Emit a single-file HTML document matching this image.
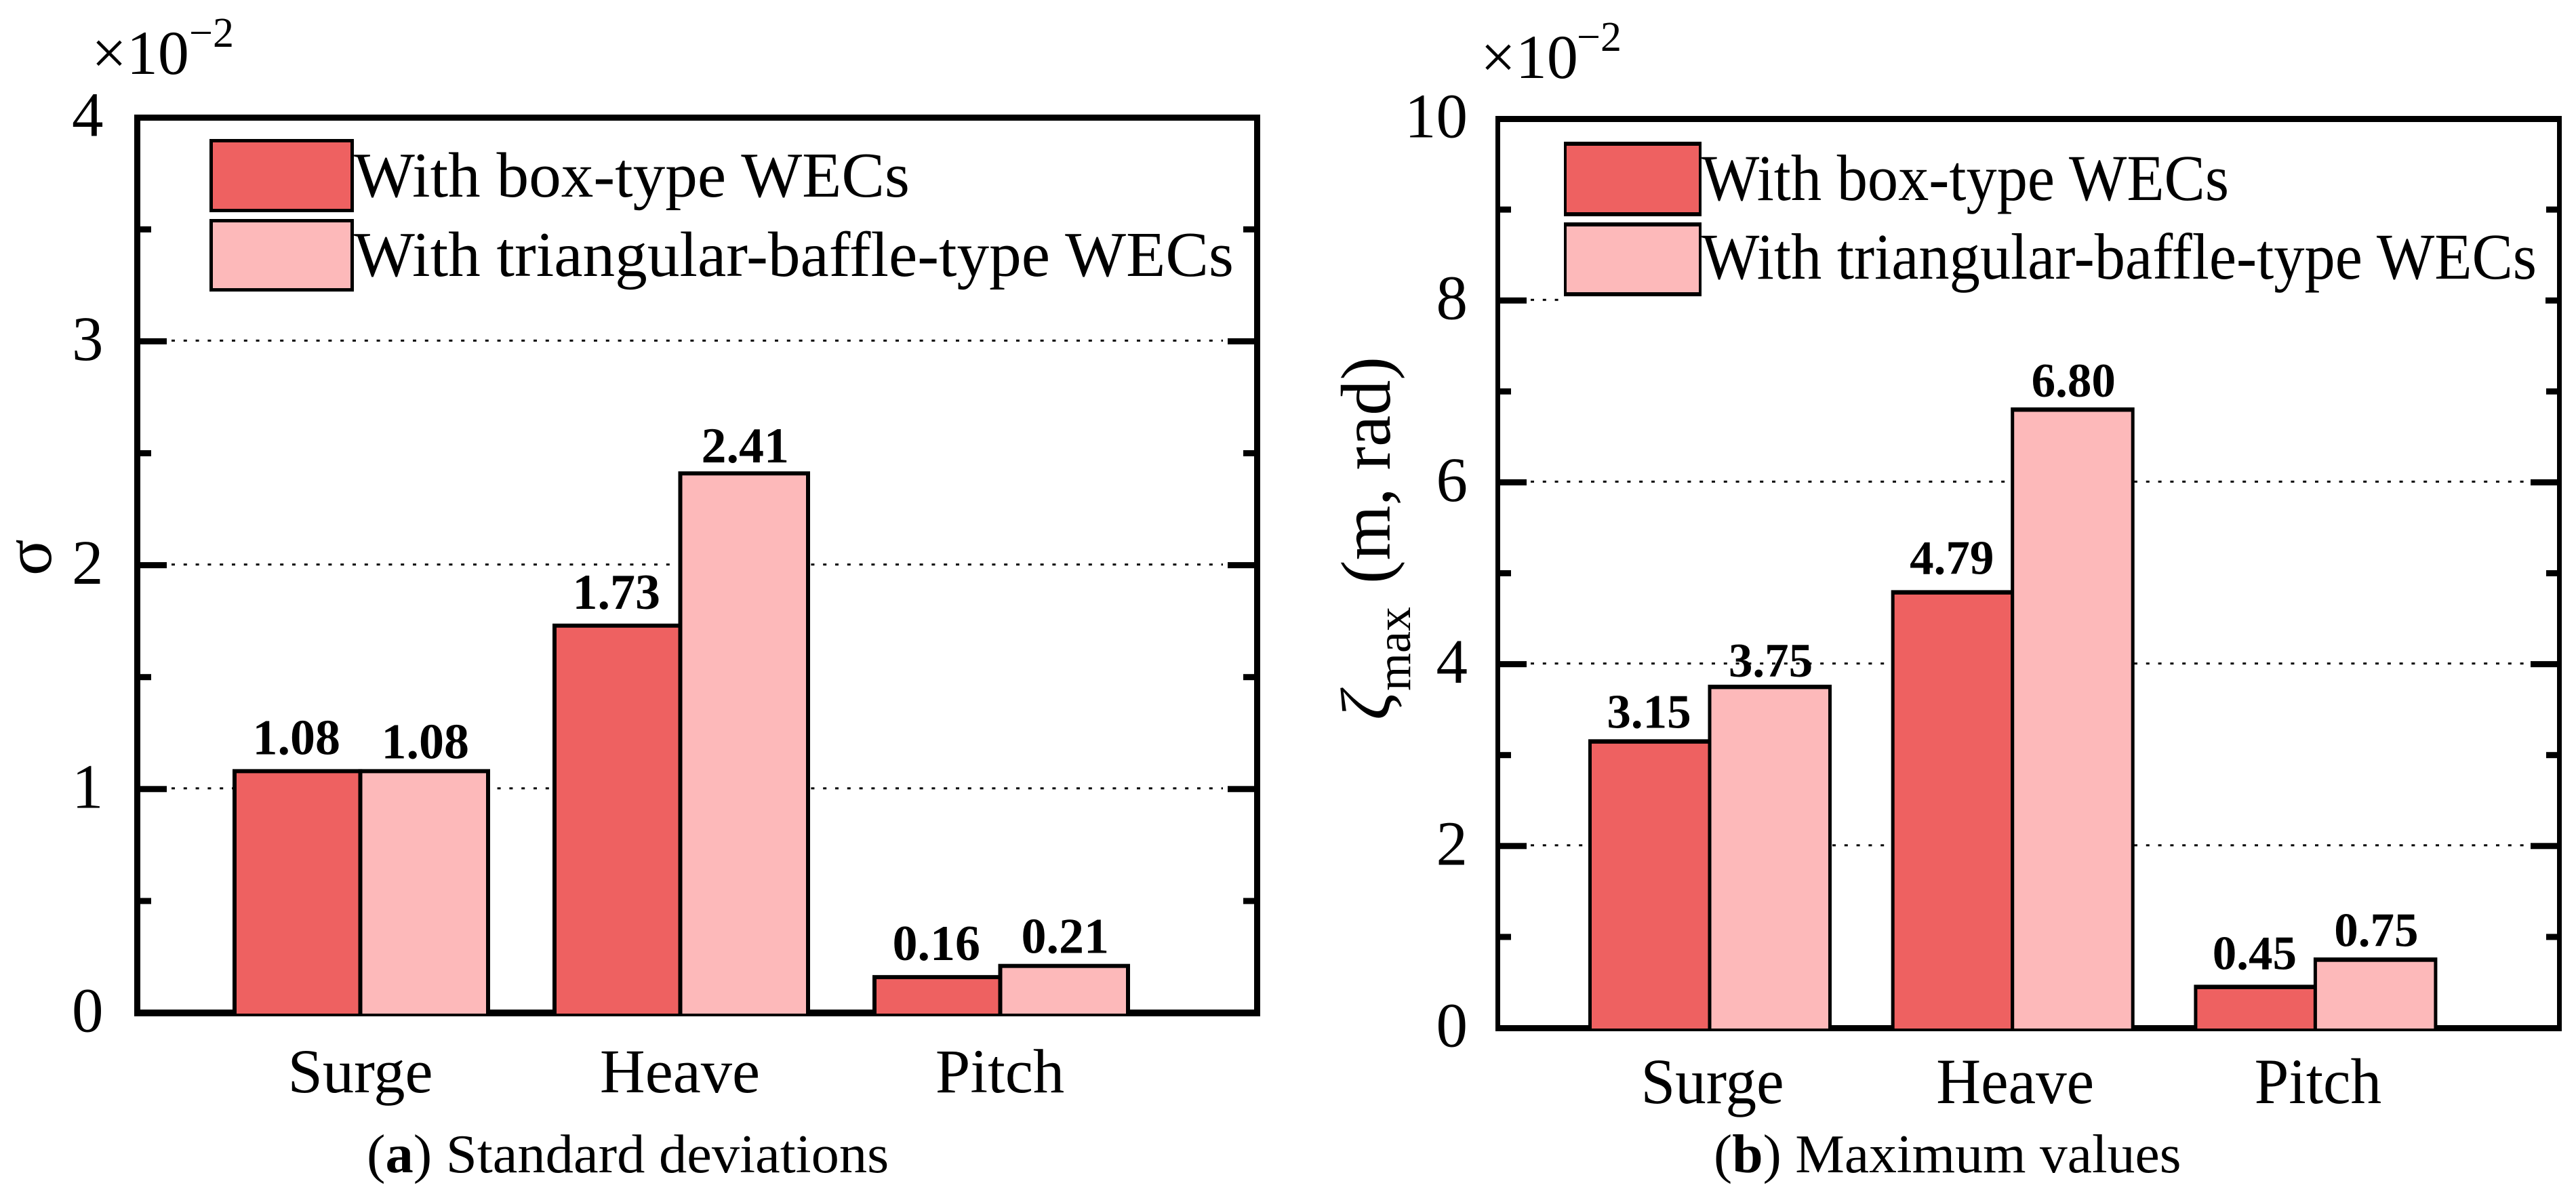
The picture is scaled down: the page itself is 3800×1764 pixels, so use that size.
<!DOCTYPE html>
<html lang="en">
<head>
<meta charset="utf-8">
<title>Standard deviations and maximum values</title>
<style>
html,body{margin:0;padding:0;background:#fff;width:3800px;height:1764px;overflow:hidden}
svg{display:block}
text{font-family:"Liberation Serif",serif;fill:#000}
</style>
</head>
<body>
<svg id="figure" xmlns="http://www.w3.org/2000/svg" width="3800" height="1764" viewBox="0 0 3800 1764">
  <rect x="0" y="0" width="3800" height="1764" fill="#fff"/>
  <g id="panel-a"></g>
  <g id="panel-b"></g>

  <g>
    <text x="135" y="109" font-size="92">×10</text>
    <text x="279" y="69" font-size="62">−2</text>
    <text transform="translate(75,822) rotate(-90)" text-anchor="middle" font-size="100">σ</text>
    <rect x="309" y="205" width="213" height="108" fill="#000"/>
    <rect x="314" y="210" width="203" height="98" fill="#EE6161"/>
    <text x="522" y="290" font-size="94.6" textLength="820" lengthAdjust="spacingAndGlyphs">With box-type WECs</text>
    <rect x="309" y="323" width="213" height="107" fill="#000"/>
    <rect x="314" y="328" width="203" height="97" fill="#FDB9BA"/>
    <text x="522" y="407" font-size="94.6" textLength="1298" lengthAdjust="spacingAndGlyphs">With triangular-baffle-type WECs</text>
    <text transform="translate(541,1729) scale(1.032,1)" font-size="80">(<tspan font-weight="bold">a</tspan>) Standard deviations</text>
  </g>

  <g>
    <text x="2184" y="115" font-size="92">×10</text>
    <text x="2326" y="75" font-size="62">−2</text>
    <text transform="translate(2050,1062) rotate(-90)" font-size="104" font-style="italic">ζ</text>
    <text transform="translate(2080,1019) rotate(-90)" font-size="72">max</text>
    <text transform="translate(2050,861) rotate(-90)" font-size="104">(m, rad)</text>
    <rect x="2300" y="200" width="1455" height="250" fill="#fff"/>
    <rect x="2307" y="209" width="203" height="110" fill="#000"/>
    <rect x="2311" y="215" width="195" height="98" fill="#EE6161"/>
    <text x="2510" y="295" font-size="96" textLength="778" lengthAdjust="spacingAndGlyphs">With box-type WECs</text>
    <rect x="2307" y="328" width="203" height="109" fill="#000"/>
    <rect x="2311" y="334" width="195" height="97" fill="#FDB9BA"/>
    <text x="2510" y="411" font-size="96" textLength="1232" lengthAdjust="spacingAndGlyphs">With triangular-baffle-type WECs</text>
    <text transform="translate(2528,1729) scale(1.021,1)" font-size="80">(<tspan font-weight="bold">b</tspan>) Maximum values</text>
  </g>
</svg>
<script>
const categories = ['Surge', 'Heave', 'Pitch'];
const sigmaBox = [1.08, 1.73, 0.16];
const sigmaTriangular = [1.08, 2.41, 0.21];
const zetaBox = [3.15, 4.79, 0.45];
const zetaTriangular = [3.75, 6.80, 0.75];
const sigmaMajorTicks = [0, 1, 2, 3, 4];
const sigmaMinorTicks = [0.5, 1.5, 2.5, 3.5];
const sigmaGridValues = [1, 2, 3];
const zetaMajorTicks = [0, 2, 4, 6, 8, 10];
const zetaMinorTicks = [1, 3, 5, 7, 9];
const zetaGridValues = [2, 4, 6, 8];

const NS = 'http://www.w3.org/2000/svg';

function shape(parent, tag) {
  const node = document.createElementNS(NS, tag);
  parent.appendChild(node);
  return node;
}

function box(parent, x, y, w, h, fill) {
  const r = shape(parent, 'rect');
  r.setAttribute('x', x);
  r.setAttribute('y', y);
  r.setAttribute('width', w);
  r.setAttribute('height', h);
  r.setAttribute('fill', fill);
  return r;
}

function label(parent, str, x, y, size, anchor, bold, sx) {
  const t = shape(parent, 'text');
  t.textContent = str;
  t.setAttribute('transform', 'translate(' + x + ',' + y + ') scale(' + sx + ',1)');
  t.setAttribute('font-size', size);
  t.setAttribute('text-anchor', anchor);
  if (bold) t.setAttribute('font-weight', 'bold');
  return t;
}

function drawPanel(root, tag, cfg) {
  const yOf = function (v) { return cfg.y0 - v * cfg.unit; };
  const xOf = function (i) { return cfg.c0 + i * cfg.step; };

  cfg.grid.forEach(function (v) {
    const l = shape(root, 'line');
    l.setAttribute('x1', cfg.gridL);
    l.setAttribute('x2', cfg.gridR);
    l.setAttribute('y1', yOf(v) - 1);
    l.setAttribute('y2', yOf(v) - 1);
    l.setAttribute('stroke', '#000');
    l.setAttribute('stroke-width', 3);
    l.setAttribute('stroke-dasharray', '5 12.8');
    
    
  });

  const frame = [
    [cfg.L, cfg.T, cfg.R - cfg.L, cfg.tw],
    [cfg.L, cfg.B - cfg.bw, cfg.R - cfg.L, cfg.bw],
    [cfg.L, cfg.T, cfg.lw, cfg.B - cfg.T],
    [cfg.R - cfg.lw, cfg.T, cfg.lw, cfg.B - cfg.T]
  ];
  frame.forEach(function (f) {
    const r = box(root, f[0], f[1], f[2], f[3], '#000');
    
    
  });

  function ticks(values, len, kind) {
    values.forEach(function (v) {
      if (v === 0 || v === cfg.maxV) return;
      const a = box(root, cfg.L + cfg.lw, yOf(v) - 4.5, len, 9, '#000');
      
      
      const b = box(root, cfg.R - cfg.lw - len, yOf(v) - 4.5, len, 9, '#000');
      
      
    });
  }
  ticks(cfg.major, 39, 'major');
  ticks(cfg.minor, 16, 'minor');

  cfg.major.forEach(function (v) {
    const t = label(root, String(v), cfg.tickX, yOf(v) + 27.5, 93, 'end', false, 1);
    
    
  });

  categories.forEach(function (name, i) {
    const c = xOf(i);
    const pair = [
      { v: cfg.first[i], fill: '#EE6161', x1: c - cfg.wL, x2: c + cfg.sx / 2, cx: c - cfg.wL / 2, gap: cfg.gapFirst[i], s: 'box' },
      { v: cfg.second[i], fill: '#FDB9BA', x1: c - cfg.sx / 2, x2: c + cfg.wR, cx: c + cfg.wR / 2, gap: cfg.gapSecond[i], s: 'triangular' }
    ];
    pair.forEach(function (p) {
      const g = shape(root, 'g');
      
      
      const top = yOf(p.v) - cfg.sy / 2;
      box(g, p.x1, top, p.x2 - p.x1, cfg.B - top, '#000');
      box(g, p.x1 + cfg.sx, top + cfg.sy, p.x2 - p.x1 - 2 * cfg.sx, cfg.B - top - cfg.sy - 4, p.fill);
      const t = label(root, p.v.toFixed(2), p.cx, yOf(p.v) - p.gap, cfg.valSize, 'middle', true, 1);
      
      
    });
    const cl = label(root, name, c + cfg.catNudge[i], cfg.catY, cfg.catSize, 'middle', false, cfg.catScale);
    
    
  });
}

drawPanel(document.getElementById('panel-a'), 'a', {
  first: sigmaBox, second: sigmaTriangular,
  major: sigmaMajorTicks, minor: sigmaMinorTicks, grid: sigmaGridValues, maxV: 4,
  y0: 1494, unit: 330.2, c0: 531.5, step: 472,
  L: 198, R: 1859, T: 169, B: 1499, tw: 9, bw: 10, lw: 9,
  gridL: 253, gridR: 1804, tickX: 152.5,
  wL: 188.5, wR: 191.5, sx: 6, sy: 6, valSize: 74,
  gapFirst: [25, 25, 25], gapSecond: [19, 16, 19],
  catNudge: [0, -0.5, -0.5], catY: 1611, catSize: 92.5, catScale: 1
});

drawPanel(document.getElementById('panel-b'), 'b', {
  first: zetaBox, second: zetaTriangular,
  major: zetaMajorTicks, minor: zetaMinorTicks, grid: zetaGridValues, maxV: 10,
  y0: 1516, unit: 134.1, c0: 2522, step: 446.7,
  L: 2206, R: 3779, T: 171, B: 1521, tw: 9, bw: 9, lw: 7,
  gridL: 2258, gridR: 3728, tickX: 2165,
  wL: 179, wR: 180, sx: 5, sy: 6.5, valSize: 71,
  gapFirst: [20, 27, 26], gapSecond: [15, 19, 20],
  catNudge: [4, 4, 4], catY: 1627, catSize: 95, catScale: 0.96
});
</script>
</body>
</html>
